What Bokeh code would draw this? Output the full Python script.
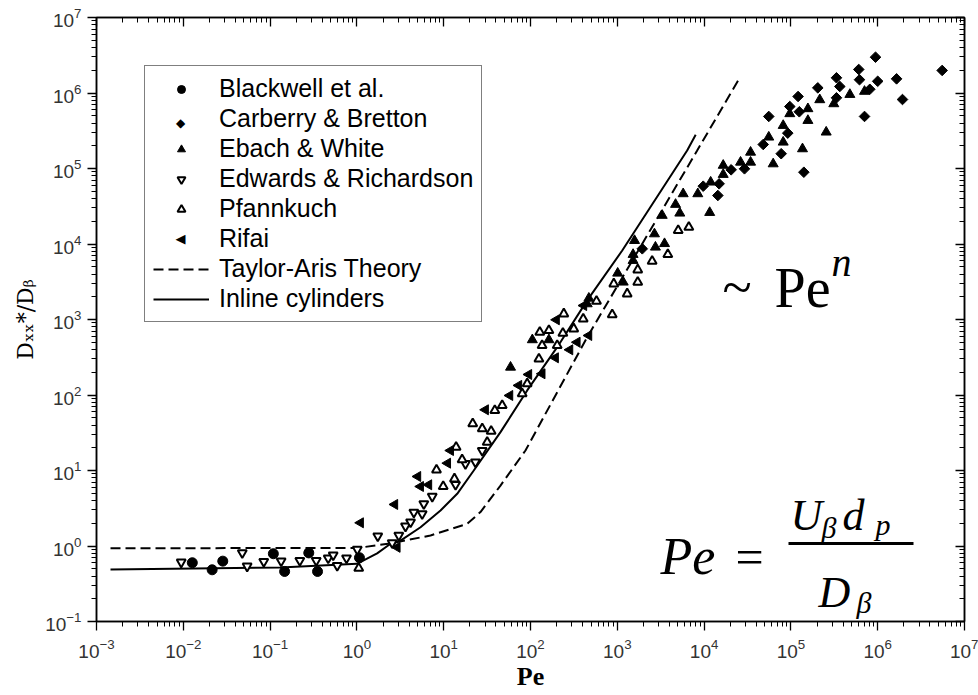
import numpy as np
from bokeh.plotting import figure
from bokeh.models import (Range1d, LogAxis, FixedTicker, Label, BoxAnnotation,
                          Legend, LegendItem, CustomJSTickFormatter)
from bokeh.embed import file_html
from bokeh.resources import INLINE

# ---------------- data ----------------
blackwell_pe = [0.0127, 0.0215, 0.0285, 0.109, 0.147, 0.279, 0.352, 1.07]
blackwell_d = [0.60, 0.484, 0.63, 0.79, 0.46, 0.81, 0.46, 0.70]

carberry_pe = [1940, 9770, 14900, 14400, 20500, 29200, 944000, 5.53e6, 605000, 617000,
               1.0e6, 1.65e6, 335000, 366000, 204000, 811000, 335000, 1.93e6, 121000,
               97100, 125000, 705000, 55600, 92000, 48000, 77300, 141000]
carberry_d = [8640, 58300, 62700, 43900, 96100, 99100, 2.98e6, 1.99e6, 2.05e6, 1.50e6,
              1.43e6, 1.54e6, 1.59e6, 1.22e6, 1.17e6, 1.12e6, 864000, 820000, 899000,
              662000, 564000, 489000, 489000, 294000, 208000, 157000, 89300]

ebach_pe = [58.9, 105, 163, 470, 450, 1010, 1170, 1520, 1520, 1580, 2750, 2680, 3500,
            3290, 4690, 5250, 5740, 8460, 11900, 11600, 16600, 16600, 26300, 34300,
            34300, 62500, 215000, 478000, 705000, 312000, 97100, 157000, 157000, 81500,
            255000, 55600, 81500, 136000]
ebach_d = [233, 538, 538, 1910, 1610, 4100, 3120, 7260, 6040, 11100, 9070, 13600, 10100,
           23900, 33400, 25600, 46200, 46200, 65900, 26100, 83300, 110000, 121000, 121000,
           164000, 115000, 813000, 955000, 1.05e6, 719000, 531000, 618000, 432000, 371000,
           303000, 260000, 223000, 182000]

edwards_pe = [0.00946, 0.0478, 0.0544, 0.0845, 0.134, 0.22, 0.34, 0.467, 0.533, 0.593,
              0.759, 1.01, 1.74, 2.55, 3.04, 3.63, 4.15, 4.53, 5.65, 5.90, 7.38, 13.7,
              17.8, 23.2, 27.8]
edwards_d = [0.61, 0.81, 0.54, 0.62, 0.63, 0.64, 0.64, 0.69, 0.76, 0.55, 0.69, 0.90, 1.35,
             1.10, 1.38, 1.83, 2.07, 2.80, 2.67, 3.62, 4.53, 6.53, 12.3, 12.9, 18.4]

pfannkuch_pe = [1.05, 8.26, 9.87, 13.3, 13.9, 16.3, 21.6, 27.8, 35.2, 31.7, 38.8, 47.2,
                80.2, 91.6, 125, 128, 136, 163, 203, 236, 242, 315, 405, 576, 874, 911,
                1300, 1720, 1720, 2520, 3820, 5030, 6670]
pfannkuch_d = [0.51, 10.2, 6.14, 7.76, 20.4, 13.9, 41.6, 35.7, 33.2, 23.7, 62.4, 72.6,
               104, 141, 301, 679, 453, 715, 453, 659, 1190, 753, 1020, 1750, 1160, 2970,
               2190, 3120, 4550, 5920, 7260, 15100, 16700]

rifai_pe = [1.10, 2.91, 2.73, 5.03, 5.41, 6.73, 11.1, 12.0, 30.3, 57.8, 73.3, 95.5, 136,
            194, 199, 284, 345, 470, 411]
rifai_d = [2.03, 0.96, 3.55, 8.33, 6.14, 6.47, 12.5, 18.4, 63.7, 98.5, 134, 187, 191, 311,
           991, 397, 500, 614, 1530]

taylor_pe = [0.00145, 1.0, 2.44, 7.05, 18.7, 26.5, 45.1, 87.5, 450, 8320, 25000]
taylor_d = [0.935, 0.94, 1.08, 1.38, 1.97, 2.81, 6.32, 18.4, 583, 173000, 1.5e6]

inline_pe = [0.00145, 0.132, 1.0, 1.71, 2.44, 3.18, 5.41, 9.19, 14.3, 22.2, 45.1, 91.6,
             203, 450, 1140, 6380, 8000]
inline_d = [0.49, 0.52, 0.58, 0.80, 1.07, 1.18, 1.77, 2.95, 4.91, 10.0, 32.2, 115, 430,
            1790, 8200, 173000, 280000]

x_major = [10.0 ** k for k in range(-3, 8)]
x_minor = [m * 10.0 ** k for k in range(-3, 7) for m in range(2, 10)]
y_major = [10.0 ** k for k in range(-1, 8)]
y_minor = [m * 10.0 ** k for k in range(-1, 7) for m in range(2, 10)]

# ---------------- figure ----------------
W, H = 978, 695
FX0, FX1, FY0, FY1 = 96, 964, 17, 621   # frame edges in page pixels
p = figure(width=W, height=H, x_axis_type="log", y_axis_type="log",
           x_range=Range1d(1e-3, 1e7), y_range=Range1d(1e-1, 1e7),
           output_backend="svg", toolbar_location=None,
           min_border_left=FX0, min_border_right=W - FX1,
           min_border_top=FY0, min_border_bottom=H - FY1)
p.xgrid.visible = False
p.ygrid.visible = False
p.outline_line_color = "black"
p.outline_line_width = 1.5
p.background_fill_color = "white"
p.border_fill_color = "white"


def style_axis(ax, inward=False):
    ax.axis_line_width = 1.5
    ax.axis_line_color = "black"
    ax.major_tick_line_color = "black"
    ax.minor_tick_line_color = "black"
    ax.major_tick_line_width = 1.3
    ax.minor_tick_line_width = 1.0
    if inward:
        ax.major_tick_in, ax.major_tick_out = 9, 0
        ax.minor_tick_in, ax.minor_tick_out = 5, 0
        ax.major_label_text_font_size = "0px"
        ax.major_label_standoff = 0
        ax.formatter = CustomJSTickFormatter(code="return ''")
    else:
        ax.major_tick_in, ax.major_tick_out = 0, 9
        ax.minor_tick_in, ax.minor_tick_out = 0, 5
        ax.major_label_text_font = "Liberation Sans"
        ax.major_label_text_font_size = "19px"
        ax.major_label_text_color = "#333333"


xa = p.xaxis[0]
xa.ticker = FixedTicker(ticks=x_major, minor_ticks=x_minor)
style_axis(xa)
xa.major_label_standoff = 8
xa.axis_label = "Pe"
xa.axis_label_text_font = "Liberation Serif"
xa.axis_label_text_font_size = "26px"
xa.axis_label_text_font_style = "bold"
xa.axis_label_text_color = "black"
xa.axis_label_standoff = 1

ya = p.yaxis[0]
ya.ticker = FixedTicker(ticks=y_major, minor_ticks=y_minor)
style_axis(ya)
ya.major_label_standoff = 6
ya.axis_label = "Dₓₓ*/Dᵦ"
ya.axis_label_text_font = "DejaVu Serif"
ya.axis_label_text_font_size = "22px"
ya.axis_label_text_font_style = "normal"
ya.axis_label_text_color = "black"
ya.axis_label_standoff = 4

top = LogAxis(ticker=FixedTicker(ticks=x_major, minor_ticks=x_minor))
style_axis(top, inward=True)
p.add_layout(top, "above")
right = LogAxis(ticker=FixedTicker(ticks=y_major, minor_ticks=y_minor))
style_axis(right, inward=True)
p.add_layout(right, "right")

# ---------------- glyphs ----------------
r_ta = p.line(taylor_pe, taylor_d, line_color="black", line_width=2, line_dash="10 5")
r_ic = p.line(inline_pe, inline_d, line_color="black", line_width=2)

r_bw = p.scatter(blackwell_pe, blackwell_d, marker="circle", size=10,
                 fill_color="black", line_color="black")
r_cb = p.scatter(carberry_pe, carberry_d, marker="square", angle=np.pi / 4, size=7.5,
                 fill_color="black", line_color="black")
r_eb = p.scatter(ebach_pe, ebach_d, marker="triangle", size=10,
                 fill_color="black", line_color="black")
r_ed = p.scatter(edwards_pe, edwards_d, marker="inverted_triangle", size=9,
                 fill_color="white", line_color="black", line_width=2)
r_pf = p.scatter(pfannkuch_pe, pfannkuch_d, marker="triangle", size=9,
                 fill_color="white", line_color="black", line_width=2)
r_rf = p.scatter(rifai_pe, rifai_d, marker="triangle", angle=np.pi / 2, size=10,
                 fill_color="black", line_color="black")

# legend-only placeholders (legend glyphs ignore marker rotation); hidden in the plot,
# their swatches are drawn as symbol labels below
lg_cb = p.scatter(carberry_pe, carberry_d, marker="square", size=10,
                  fill_alpha=0, line_alpha=0, visible=False)
lg_rf = p.scatter(rifai_pe, rifai_d, marker="triangle", size=10,
                  fill_alpha=0, line_alpha=0, visible=False)

legend = Legend(items=[
    LegendItem(label="Blackwell et al.", renderers=[r_bw]),
    LegendItem(label="Carberry & Bretton", renderers=[lg_cb]),
    LegendItem(label="Ebach & White", renderers=[r_eb]),
    LegendItem(label="Edwards & Richardson", renderers=[r_ed]),
    LegendItem(label="Pfannkuch", renderers=[r_pf]),
    LegendItem(label="Rifai", renderers=[lg_rf]),
    LegendItem(label="Taylor-Aris Theory", renderers=[r_ta]),
    LegendItem(label="Inline cylinders", renderers=[r_ic]),
], location="top_left", margin=48, padding=8, spacing=1,
    glyph_width=56, glyph_height=20, label_standoff=10,
    label_text_font="Liberation Sans", label_text_font_size="25px",
    label_text_color="black", border_line_color="black", border_line_width=1,
    background_fill_color="white", background_fill_alpha=0.0,
    inactive_fill_alpha=0.0)
p.add_layout(legend)


# ---------------- text annotations (page-pixel placement) ----------------
def X(px):
    return 10 ** (-3 + (px - FX0) / (FX1 - FX0) * 10)


def Y(py):
    return 10 ** (7 - (py - FY0) / (FY1 - FY0) * 8)


def lab(text, px, py, size, style="normal", font="Liberation Serif",
        align="left", baseline="alphabetic"):
    p.add_layout(Label(x=X(px), y=Y(py), text=text, text_font=font,
                       text_font_size=f"{size}px", text_font_style=style,
                       text_align=align, text_baseline=baseline, text_color="black"))


# swatches for the Carberry (diamond) and Rifai (left triangle) legend rows
lab("◆", 180, 122, 12, font="DejaVu Sans", align="center")
lab("◀", 180, 238, 13, font="DejaVu Sans", align="center")

# ~ Pe^n
lab("~", 722, 287, 54)
lab("Pe", 774, 287, 56)
lab("n", 831, 262, 40, style="italic")

# Pe = U_beta d_p / D_beta
lab("Pe", 660, 556, 52, style="italic")
lab("=", 735, 556, 50)
lab("U", 790, 515, 44, style="italic")
lab("β", 821, 527, 30, style="italic")
lab("d", 842, 515, 44, style="italic")
lab("p", 875, 524, 30, style="italic")
lab("D", 818, 592, 44, style="italic")
lab("β", 856, 602, 30, style="italic")
p.add_layout(BoxAnnotation(left=X(788), right=X(913), top=Y(541.5), bottom=Y(544.5),
                           fill_color="black", fill_alpha=1.0, line_alpha=0))

open("out.html", "w").write(file_html(p, INLINE))
